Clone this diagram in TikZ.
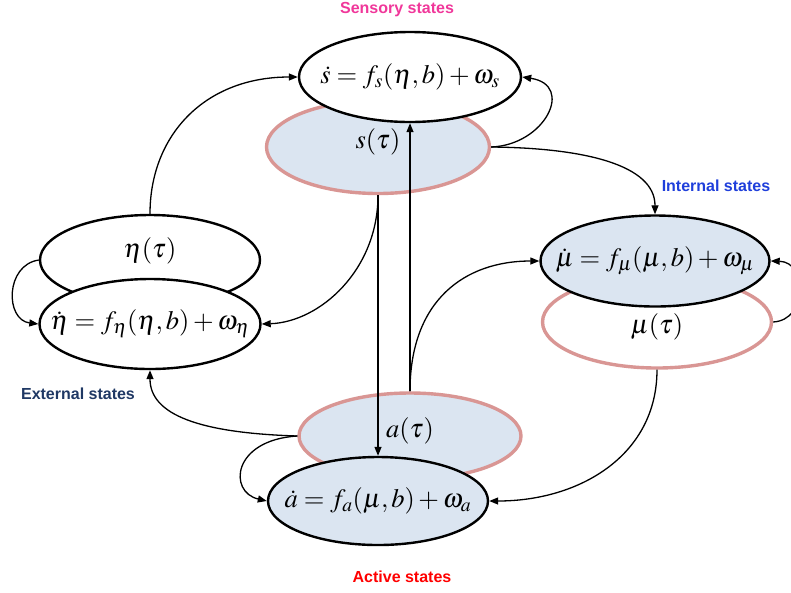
\documentclass[tikz,border=0pt]{standalone}
\usepackage[no-math]{fontspec}
\usepackage{mathptmx}
\newfontfamily\labfont{Liberation Sans}
\usetikzlibrary{shapes.geometric,arrows.meta}
\definecolor{pinkline}{HTML}{D99694}
\definecolor{lightblue}{HTML}{DBE5F1}
\definecolor{sensc}{HTML}{F0379A}
\definecolor{intc}{HTML}{1F3FDB}
\definecolor{extc}{HTML}{1F3864}
\definecolor{actc}{HTML}{FF0000}
\newcommand{\zb}[1]{\makebox[0pt]{#1}}
\begin{document}
\begin{tikzpicture}[x=1pt,y=-1pt,
  every node/.style={inner sep=0pt},
  blk/.style={ellipse, draw=black, line width=2.4pt},
  pnk/.style={ellipse, draw=pinkline, line width=3.4pt},
  wfill/.style={fill=white},
  bfill/.style={fill=lightblue},
  conn/.style={line width=1.3pt, -{Triangle[length=9pt,width=7pt]}},
  eq/.style={font=\fontsize{26.5}{31}\selectfont},
  lab/.style={font=\labfont\bfseries\fontsize{16}{19}\selectfont}]
\useasboundingbox (0,0) rectangle (791,592);

% sensory
\node[pnk,bfill,minimum width=223pt,minimum height=93pt,
  label={[eq,yshift=5pt]center:$s(\tau)$}] (stau) at (378,147) {};
\node[blk,wfill,eq,minimum width=222pt,minimum height=90pt] (sdot) at (410,77) {\zb{$\dot{s}=f_s(\eta,b)+\omega_s$}};
% external
\node[blk,wfill,minimum width=220pt,minimum height=90pt,
  label={[eq,yshift=9pt]center:$\eta(\tau)$}] (etatau) at (150,260) {};
\node[blk,wfill,eq,minimum width=221pt,minimum height=90pt] (etadot) at (150,324) {\zb{$\dot{\eta}=f_\eta(\eta,b)+\omega_\eta$}};
% internal
\node[pnk,wfill,minimum width=229pt,minimum height=92pt,
  label={[eq,yshift=-5pt]center:$\mu(\tau)$}] (mutau) at (657,322) {};
\node[blk,bfill,eq,minimum width=229pt,minimum height=91pt] (mudot) at (655,261) {\zb{$\dot{\mu}=f_\mu(\mu,b)+\omega_\mu$}};
% active
\node[pnk,bfill,minimum width=222pt,minimum height=86pt,
  label={[eq,yshift=5pt]center:$a(\tau)$}] (atau) at (410,436) {};
\node[blk,bfill,eq,minimum width=220pt,minimum height=88pt] (adot) at (378,501) {\zb{$\dot{a}=f_a(\mu,b)+\omega_a$}};

% labels
\node[lab,text=sensc] (lsens) at (397,10) {Sensory states};
\node[lab,text=intc] (lint) at (716,186) {Internal states};
\node[lab,text=extc] (lext) at (78,394) {External states};
\node[lab,text=actc] (lact) at (402,577) {Active states};

% connectors
\draw[conn] (etatau.north) .. controls (150,135) and (205,77) .. (sdot.west);
\draw[conn] (stau.east) .. controls (545,145) and (575,85) .. (sdot.east);
\draw[conn] (stau.east) .. controls (585,148) and (655,165) .. (mudot.north);
\draw[conn] (stau.south) -- (adot.north);
\draw[conn] (atau.north) -- (sdot.south);
\draw[conn] (stau.south) .. controls (378,270) and (320,322) .. (etadot.east);
\draw[conn] (atau.north) .. controls (410,300) and (465,261) .. (mudot.west);
\draw[conn] (mutau.east) .. controls (808,320) and (808,262) .. (mudot.east);
\draw[conn] (mutau.south) .. controls (657,455) and (580,501) .. (adot.east);
\draw[conn] (atau.west) .. controls (200,433) and (150,415) .. (etadot.south);
\draw[conn] (atau.west) .. controls (232,440) and (228,492) .. (adot.west);
\draw[conn] (etatau.west) .. controls (5,265) and (5,320) .. (etadot.west);
\end{tikzpicture}
\end{document}
